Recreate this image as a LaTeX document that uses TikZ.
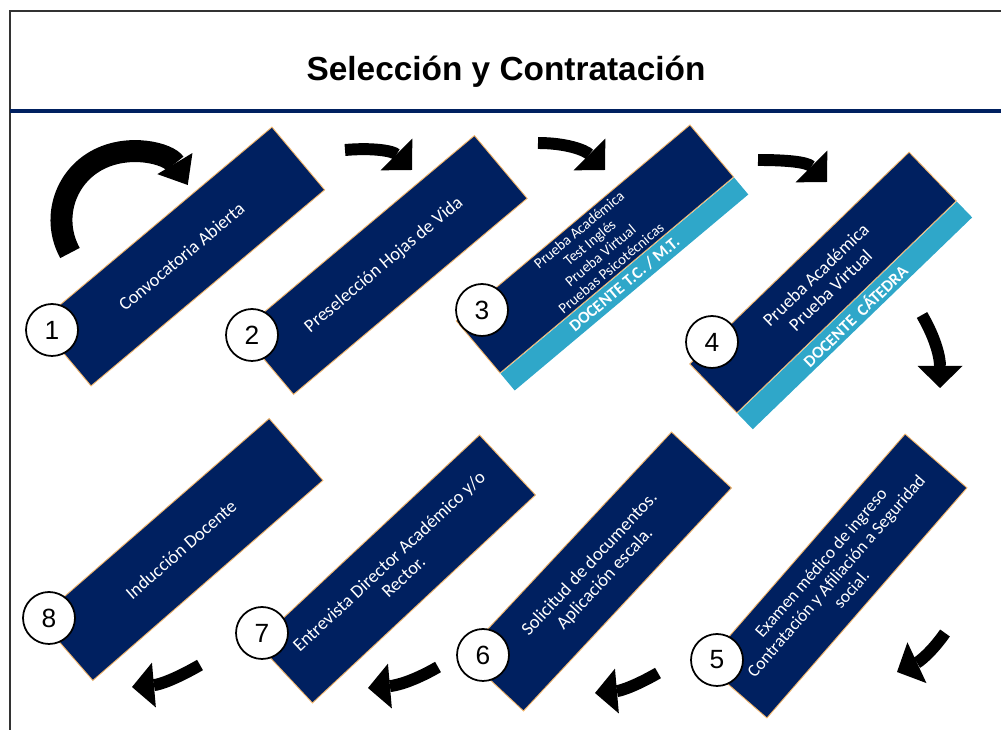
\documentclass[tikz,border=0pt]{standalone}
\usepackage{fontspec}
\setmainfont{Carlito}
\newfontfamily\arialfam{Liberation Sans}
\usetikzlibrary{arrows.meta,positioning}
\definecolor{azuloscuro}{HTML}{002060}
\definecolor{celeste}{HTML}{2FA7C9}
\definecolor{borde}{HTML}{F4B66A}

\begin{document}
\begin{tikzpicture}[x=0.02cm,y=0.02cm,node distance=0pt]
  \tikzstyle{paso}=[draw=borde, line width=0.5pt, fill=azuloscuro, text=white, minimum width=6.1cm, minimum height=1.64cm, inner sep=1pt, align=center, font=\fontsize{10.5}{12}\selectfont]
  \tikzstyle{franja}=[fill=celeste, text=white, minimum width=6.1cm, minimum height=0.44cm, inner sep=0pt, font=\fontsize{9.5}{10}\selectfont\bfseries]
  \tikzstyle{num}=[circle, draw, line width=1pt, fill=white, minimum size=1.04cm, inner sep=0pt, font=\arialfam\fontsize{15}{15}\selectfont]
  \tikzstyle{flecha}=[line width=6.8pt, -{Triangle[width=0.9cm,length=0.44cm,line width=0pt]}]

  \useasboundingbox (0,0) rectangle (1001,730);
  \draw[line width=1.2pt, black!80] (10,0) -- (10,719) -- (1001,719);
  \node[font=\arialfam\bfseries\fontsize{19}{19}\selectfont] (titulo) at (506,658) {Selección y Contratación};
  \draw[azuloscuro, line width=1.8pt] (10,619) -- (1001,619);

  % fila de arriba
  \node[paso, rotate=40] (b1) at (181.5,473.5) {Convocatoria Abierta};
  \node[paso, rotate=40] (b2) at (384,465) {Preselección Hojas de Vida};
  \node[paso, rotate=40, minimum height=1.36cm, font=\fontsize{8.5}{9.5}\selectfont] (b3) at (595,481)
    {Prueba Académica\\Test Inglés\\Prueba Virtual\\Pruebas Psicotécnicas};
  \node[franja, rotate=40, below=of b3] (f3) {DOCENTE T.C. / M.T.};
  \node[paso, rotate=44, minimum height=1.36cm] (b4) at (823,447.5) {Prueba Académica\\Prueba Virtual};
  \node[franja, rotate=44, below=of b4] (f4) {DOCENTE\ \ CÁTEDRA};

  % fila de abajo
  \node[paso, rotate=49, font=\fontsize{10}{11.5}\selectfont] (b5) at (836,154)
    {Examen médico de ingreso\\Contratación y Afiliación a Seguridad\\social.};
  \node[paso, rotate=47] (b6) at (597.5,158.5) {Solicitud de documentos.\\Aplicación escala.};
  \node[paso, rotate=43] (b7) at (396,161) {Entrevista Director Académico y/o\\Rector.};
  \node[paso, rotate=41] (b8) at (181,180.5) {Inducción Docente};

  % numeros
  \node[num] (n1) at (52,400) {1};
  \node[num] (n2) at (252,395) {2};
  \node[num] (n3) at (482,420) {3};
  \node[num] (n4) at (712,388) {4};
  \node[num] (n5) at (717,70) {5};
  \node[num] (n6) at (483,75) {6};
  \node[num] (n7) at (262,97) {7};
  \node[num] (n8) at (49,112) {8};

  % flechas
  \coordinate (inicio) at (70,477);
  \path (345,580) coordinate (f12a) (412,560) coordinate (f12b)
        (538,587) coordinate (f23a) (605,560) coordinate (f23b)
        (758,570) coordinate (f34a) (827,548) coordinate (f34b)
        (922,415) coordinate (f45a) (940,342) coordinate (f45b)
        (945,97) coordinate (f56a) (897,58) coordinate (f56b)
        (658,57) coordinate (f67a) (595,37) coordinate (f67b)
        (438,63) coordinate (f78a) (368,42) coordinate (f78b)
        (200,65) coordinate (f8a) (132,43) coordinate (f8b);
  \draw[line width=12.5pt, -{Triangle[width=0.82cm,length=0.5cm,line width=0pt]}]
    (inicio) arc[start angle=209, end angle=31, radius=68];
  \draw[flecha] (f12a) to[out=5,in=135] (f12b);
  \draw[flecha] (f23a) to[out=0,in=135] (f23b);
  \draw[flecha] (f34a) to[out=0,in=135] (f34b);
  \draw[flecha] (f45a) to[out=-60,in=90] (f45b);
  \draw[flecha] (f56a) to[out=235,in=25] (f56b);
  \draw[flecha] (f67a) to[out=210,in=5] (f67b);
  \draw[flecha] (f78a) to[out=210,in=5] (f78b);
  \draw[flecha] (f8a) to[out=210,in=5] (f8b);
\end{tikzpicture}
\end{document}
